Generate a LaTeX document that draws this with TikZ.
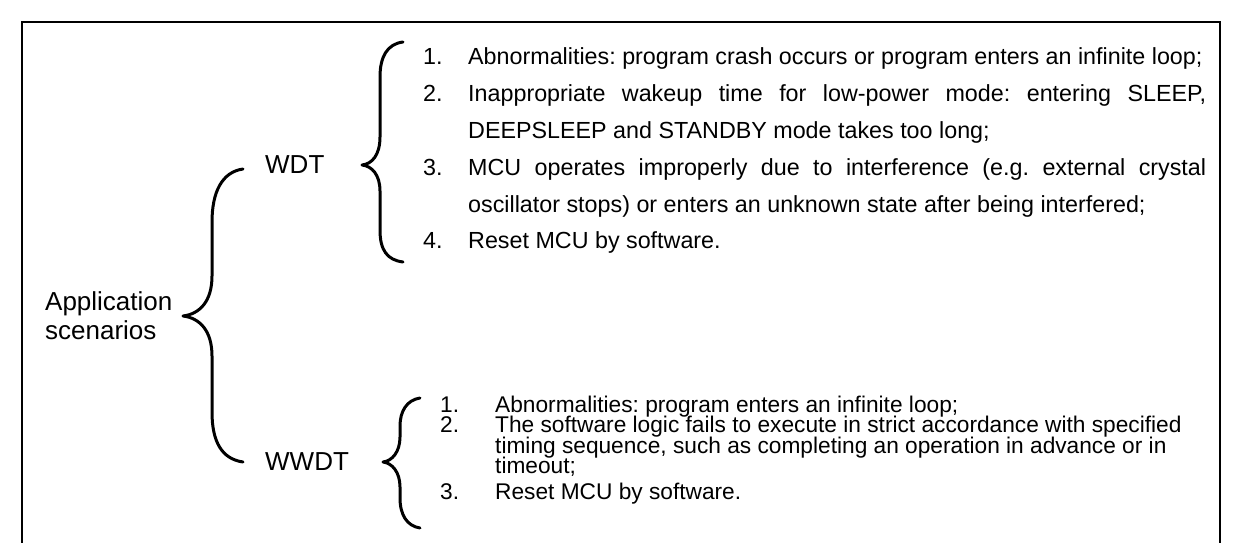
\documentclass[tikz,border=0pt]{standalone}
\usepackage{fontspec}
\setmainfont{Liberation Sans}
\frenchspacing
\begin{document}
\begin{tikzpicture}[x=1pt,y=-1pt,
  entry/.style={anchor=base west, inner sep=0pt, font=\fontsize{23.3}{28}\selectfont},
  subentry/.style={anchor=base west, inner sep=0pt, font=\fontsize{22.7}{26}\selectfont},
  caption/.style={anchor=west, inner sep=0pt, align=left, font=\fontsize{26}{29}\selectfont},
  curl/.style={line width=3pt, line cap=round, line join=round},
  boxline/.style={line width=2.5pt}]
\useasboundingbox (0,0) rectangle (1247,543);

% outer frame (open at the bottom)
\draw[boxline] (22,543) -- (22,22) -- (1220,22) -- (1220,543);

% category labels
\node[caption] (app)  at (45,316)  {Application\\scenarios};
\node[caption] (wdt)  at (265,165) {WDT};
\node[caption] (wwdt) at (265,462) {WWDT};

% main brace: Application scenarios -> WDT / WWDT
\coordinate (bigtip) at (183,316);
\draw[curl] (243,169) .. controls (222,172) and (212,192) .. (212,222)
  -- (212,276) .. controls (212,301) and (200,314) .. (bigtip)
  .. controls (200,318) and (212,331) .. (212,356)
  -- (212,412) .. controls (212,442) and (222,459) .. (243,462);

% WDT brace
\coordinate (wdttip) at (362,165);
\draw[curl] (403,42) .. controls (387,44) and (380,57) .. (380,77)
  -- (380,137) .. controls (380,155) and (372,164) .. (wdttip)
  .. controls (372,166) and (380,175) .. (380,191)
  -- (380,230) .. controls (380,250) and (387,260) .. (403,262);

% WWDT brace
\coordinate (wwdttip) at (383,462);
\draw[curl] (420,398) .. controls (407,400) and (400,411) .. (400,426)
  -- (400,437) .. controls (400,452) and (392,461) .. (wwdttip)
  .. controls (392,463) and (400,472) .. (400,487)
  -- (400,498) .. controls (400,515) and (407,526) .. (420,528);

% WDT scenarios
\node[entry] (n1) at (423,64)  {1.};
\node[entry] (t1) at (468,64)  {Abnormalities: program crash occurs or program enters an infinite loop;};
\node[entry] (n2) at (423,101) {2.};
\node[entry] (t2) at (468,101) {\makebox[738pt][s]{Inappropriate wakeup time for low-power mode: entering SLEEP,}};
\node[entry] (t2b) at (468,138) {DEEPSLEEP and STANDBY mode takes too long;};
\node[entry] (n3) at (423,175) {3.};
\node[entry] (t3) at (468,175) {\makebox[738pt][s]{MCU operates improperly due to interference (e.g. external crystal}};
\node[entry] (t3b) at (468,212) {oscillator stops) or enters an unknown state after being interfered;};
\node[entry] (n4) at (423,248) {4.};
\node[entry] (t4) at (468,248) {Reset MCU by software.};

% WWDT scenarios
\node[subentry] (m1) at (440,412) {1.};
\node[subentry] (s1) at (495,412) {Abnormalities: program enters an infinite loop;};
\node[subentry] (m2) at (440,432.5) {2.};
\node[subentry] (s2) at (495,432.5) {The software logic fails to execute in strict accordance with specified};
\node[subentry] (s2b) at (495,453) {timing sequence, such as completing an operation in advance or in};
\node[subentry] (s2c) at (495,473.5) {timeout;};
\node[subentry] (m3) at (440,499) {3.};
\node[subentry] (s3) at (495,499) {Reset MCU by software.};
\end{tikzpicture}
\end{document}
